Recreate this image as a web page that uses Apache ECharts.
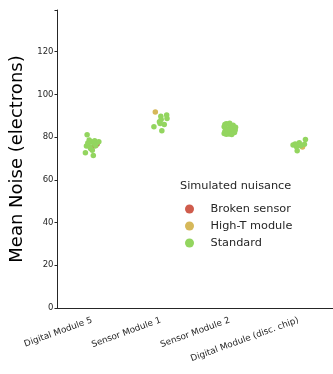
<!DOCTYPE html>
<html>
<head>
<meta charset="utf-8">
<script src="https://cdn.jsdelivr.net/npm/echarts@6/dist/echarts.min.js"></script>
<style>
  html, body { margin: 0; padding: 0; background: #fff; }
  #chart { width: 333px; height: 374px; }
</style>
</head>
<body>
<div id="chart"></div>
<script>
// Module categories along the x axis
const categories = ['Digital Module 5', 'Sensor Module 1', 'Sensor Module 2', 'Digital Module (disc. chip)'];
const yTicks = [0, 20, 40, 60, 80, 100, 120];

// Standard runs: category index, horizontal strip jitter, mean noise
const standardCat = [
  0, 0, 0, 0, 0, 0, 0, 0, 0, 0, 0, 0, 0, 0, 0,
  1, 1, 1, 1, 1, 1, 1, 1, 1,
  2, 2, 2, 2, 2, 2, 2, 2, 2, 2, 2, 2, 2, 2, 2, 2, 2, 2, 2, 2, 2, 2, 2, 2,
  3, 3, 3, 3, 3, 3, 3, 3
];
const standardJitter = [
  -0.07, -0.095, 0.02, -0.04, -0.01, 0.04, 0.07, 0.10, -0.08, -0.03, 0.005, -0.02, 0.03, -0.06, 0.055,
  0.0, 0.005, -0.02, -0.10, 0.015, 0.05, 0.085, 0.09, -0.01,
  -0.07, -0.05, -0.02, 0.01, 0.04, -0.08, -0.06, 0.0, 0.03, 0.06, 0.08, -0.07, -0.04, -0.01, 0.02, 0.05, 0.07, -0.08, 0.03, -0.03, 0.05, 0.085, 0.0, -0.05,
  -0.08, -0.03, -0.02, 0.01, 0.03, 0.085, 0.10, -0.05
];
const standardNoise = [
  81.1, 72.7, 71.4, 78.6, 77.8, 78.3, 77.4, 77.8, 75.8, 75.5, 73.9, 74.7, 77.0, 77.2, 75.9,
  89.8, 88.2, 87.2, 84.8, 83.0, 85.9, 90.3, 88.7, 86.4,
  85.9, 86.3, 86.0, 85.5, 85.0, 84.8, 83.9, 84.2, 84.0, 84.1, 83.3, 82.6, 82.0, 81.5, 82.3, 82.8, 82.1, 81.7, 81.2, 83.2, 85.6, 84.6, 86.5, 81.3,
  76.3, 75.5, 73.6, 77.4, 76.0, 76.6, 78.9, 76.8
];

// Runs with a broken sensor
const brokenCat = [0, 0];
const brokenJitter = [0.04, 0.075];
const brokenNoise = [76.0, 76.8];

// Runs with a high-temperature module
const hotCat = [1, 3];
const hotJitter = [-0.08, 0.057];
const hotNoise = [91.8, 75.4];

function points(cat, jitter, noise) {
  return cat.map((c, i) => [c + jitter[i], noise[i]]);
}

const textColor = '#262626';
const font = 'DejaVu Sans';

const chart = echarts.init(document.getElementById('chart'), null, { renderer: 'canvas' });

const scatterBase = {
  type: 'scatter',
  xAxisIndex: 1,
  symbolSize: 5.5,
  itemStyle: { opacity: 1 },
  emphasis: { disabled: true }
};

chart.setOption({
  animation: false,
  backgroundColor: '#fff',
  grid: { left: 57.5, right: -6, top: 10, bottom: 66, containLabel: false },
  xAxis: [
    {
      type: 'category',
      data: categories,
      boundaryGap: true,
      axisLine: { lineStyle: { color: '#262626', width: 1 } },
      axisTick: { alignWithLabel: true, length: 3, lineStyle: { color: '#262626' } },
      axisLabel: {
        interval: 0,
        rotate: 20,
        margin: 12,
        fontFamily: font,
        fontSize: 8.8,
        color: textColor
      },
      splitLine: { show: false }
    },
    {
      type: 'value',
      min: -0.5,
      max: 3.5,
      show: false
    }
  ],
  yAxis: {
    type: 'value',
    min: 0,
    max: 139.5,
    interval: 20,
    name: 'Mean Noise (electrons)',
    nameLocation: 'middle',
    nameGap: 27,
    nameTextStyle: { fontFamily: font, fontSize: 18, color: '#000' },
    axisLine: { show: true, onZero: false, lineStyle: { color: '#262626', width: 1 } },
    axisTick: { show: true, length: 3, lineStyle: { color: '#262626' } },
    axisLabel: {
      fontFamily: font,
      fontSize: 8.5,
      color: textColor,
      margin: 4,
      formatter: v => (yTicks.indexOf(v) >= 0 ? String(v) : '')
    },
    splitLine: { show: false }
  },
  legend: {
    orient: 'vertical',
    left: 180,
    top: 197,
    icon: 'circle',
    itemWidth: 32,
    itemHeight: 9,
    itemGap: 3,
    textStyle: { fontFamily: font, fontSize: 11.3, color: textColor, lineHeight: 14 },
    data: ['Broken sensor', 'High-T module', 'Standard']
  },
  graphic: [{
    type: 'text',
    left: 180,
    top: 181,
    style: { text: 'Simulated nuisance', font: '11.3px "DejaVu Sans"', fill: textColor }
  }],
  series: [
    Object.assign({}, scatterBase, {
      name: 'Broken sensor',
      color: '#cf5c4c',
      data: points(brokenCat, brokenJitter, brokenNoise)
    }),
    Object.assign({}, scatterBase, {
      name: 'High-T module',
      color: '#d6b85a',
      data: points(hotCat, hotJitter, hotNoise)
    }),
    Object.assign({}, scatterBase, {
      name: 'Standard',
      color: '#93d55f',
      z: 3,
      data: points(standardCat, standardJitter, standardNoise)
    })
  ]
});
</script>
</body>
</html>
